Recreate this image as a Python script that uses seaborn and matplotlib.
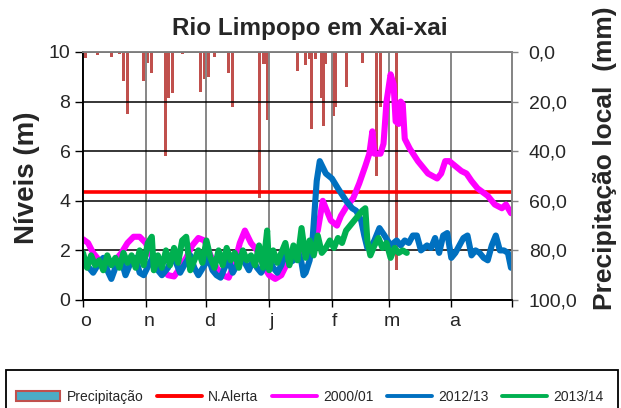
import matplotlib
matplotlib.use('Agg')
import matplotlib.pyplot as plt
import seaborn as sns
from matplotlib.patches import Patch, Rectangle
from matplotlib.lines import Line2D

# days counted from 1 October
month_start = [0, 31, 61, 92, 123, 151, 182, 212]
month_labels = ['o', 'n', 'd', 'j', 'f', 'm', 'a']

# local rainfall (mm)
rain_day = [1, 7, 14, 18, 20, 22, 30, 32, 34, 41, 42, 44, 49, 58, 60, 62, 65, 72, 74,
            87, 89, 90, 91, 106, 110, 112, 113, 115, 118, 119, 120, 124, 125, 130, 138,
            145, 147, 155]
rain_mm = [2.4, 1.2, 2, 1, 11.5, 25, 11.5, 4.4, 8.5, 42, 18.5, 16.5, 1, 16, 11, 10, 2, 8.5, 22,
           59, 5, 5, 27.5, 7.8, 5.4, 3, 31, 3, 18.5, 30, 5, 26, 22, 14, 4.4,
           50, 22, 88]

# alert level (m)
alert_day = [0, 212]
alert_lvl = [4.35, 4.35]

# 2000/01 levels (m)
s0001_day = [0, 2.5, 5, 8, 12, 16, 19, 22, 25, 28, 31, 33, 36, 39, 42, 45, 48, 51, 54, 57,
             60, 63, 66, 69, 72, 75, 77.5, 80, 83, 86, 89, 92, 95, 98, 101, 104, 107, 110,
             113, 116, 118.5, 120.5, 122.5, 125.5, 127.5, 130.5, 133.5, 136.5, 139.5, 141.5,
             143, 144, 147, 148.5, 150, 152, 153.5, 154.5, 156, 157, 158, 159, 161.5, 165.5,
             170.5, 175, 177, 179, 181, 184, 187, 189.5, 192, 195, 200, 203.5, 207, 209, 211.5]
s0001_lvl = [2.45, 2.3, 1.9, 1.6, 1.5, 1.6, 1.9, 2.3, 2.55, 2.55, 2.3, 1.9, 1.5, 1.3, 1.0, 0.95,
             1.3, 1.7, 2.2, 2.5, 2.4, 1.8, 1.3, 1.0, 0.9, 1.5, 2.3, 2.8, 2.3, 2.0, 1.4, 1.0,
             0.85, 1.0, 1.5, 1.7, 1.8, 1.9, 2.3, 2.8, 4.0, 3.6, 3.2, 3.0, 3.4, 3.8, 4.1, 4.7,
             5.4, 5.9, 6.8, 5.9, 5.9, 6.3, 8.0, 9.1, 8.7, 7.2, 7.1, 8.0, 7.9, 6.5, 6.1, 5.6,
             5.1, 4.9, 5.1, 5.6, 5.6, 5.4, 5.2, 5.1, 4.8, 4.5, 4.2, 3.85, 3.7, 3.85, 3.5]

# 2012/13 levels (m)
s1213_day = [0, 3, 5, 8, 10, 12, 14, 16, 19, 21, 23, 26, 28, 30, 33, 35, 37, 39, 42, 44, 46,
             48, 50, 53, 55, 57, 60, 62, 64, 66, 68, 70, 72, 74, 76, 78, 80, 82, 84, 86, 88,
             90, 92, 94, 96, 98, 100, 102, 104, 106, 108, 109, 110, 112, 113.5, 115.5, 117,
             120, 123, 126, 130, 133, 135, 137.5, 139, 140.5, 142, 144, 146.5, 149, 152, 155,
             157, 159, 161, 163, 165, 167, 170, 172, 174, 176, 178, 180, 182, 184, 186, 188,
             190, 192, 194, 196, 198, 200, 202, 204, 206, 208, 210, 211.5]
s1213_lvl = [1.5, 1.3, 1.1, 1.5, 1.7, 1.2, 0.85, 1.3, 1.6, 1.0, 1.4, 1.7, 1.1, 1.0, 1.5, 1.8,
             1.2, 1.0, 1.3, 1.7, 1.5, 1.1, 1.4, 1.8, 1.3, 1.0, 1.4, 1.7, 1.2, 1.0, 0.9, 1.3,
             1.6, 1.1, 1.4, 1.8, 1.5, 1.2, 1.6, 1.3, 1.1, 1.4, 1.7, 1.3, 1.1, 1.4, 1.9, 1.5,
             1.6, 2.0, 1.5, 1.0, 1.1, 1.6, 2.5, 4.8, 5.6, 5.1, 4.9, 4.5, 4.0, 3.7, 3.6, 3.2,
             2.6, 2.1, 2.1, 2.4, 2.9, 2.6, 2.2, 2.4, 2.2, 2.4, 2.3, 2.6, 2.6, 2.0, 2.2, 2.1,
             2.5, 1.9, 2.6, 2.7, 1.7, 1.9, 2.2, 2.5, 2.6, 1.8, 2.0, 1.9, 1.7, 1.6, 2.2, 2.6,
             2.0, 2.0, 1.9, 1.3]

# 2013/14 levels (m)
s1314_day = [0, 2, 4, 6, 8, 10, 12, 14, 16, 18, 20, 22, 24, 26, 28, 30, 32, 34, 35, 37, 39,
             41, 43, 45, 47, 49, 51, 53, 55, 57, 59, 61, 63, 65, 67, 69, 71, 73, 75, 77, 79,
             81, 83, 85, 87, 89, 91, 92, 94, 96, 98, 100, 102, 104, 106, 108, 110, 112, 114,
             116, 118, 120, 122, 124, 126, 128, 130, 132, 134, 136, 138, 139.5, 140.5, 142,
             144, 146, 148, 150, 152, 154, 156, 158, 160]
s1314_lvl = [1.9, 1.3, 1.8, 1.4, 1.6, 1.2, 1.8, 1.4, 1.7, 1.3, 1.9, 1.5, 1.8, 1.3, 2.0, 1.4,
             2.3, 2.55, 1.2, 1.8, 1.3, 2.0, 1.4, 2.1, 1.5, 2.4, 2.55, 1.2, 1.6, 2.0, 1.5, 2.4,
             1.7, 1.3, 2.0, 1.4, 2.1, 1.6, 1.9, 1.3, 2.0, 1.6, 1.8, 1.4, 2.2, 1.3, 2.8, 1.2,
             2.0, 1.5, 1.9, 2.3, 1.4, 2.2, 1.6, 2.9, 1.7, 2.4, 1.8, 2.6, 1.9, 2.1, 2.4, 2.1,
             2.5, 2.3, 2.8, 3.0, 3.2, 3.4, 3.6, 3.7, 2.4, 1.8, 2.2, 2.5, 2.1, 2.3, 1.7, 2.1,
             1.9, 2.0, 1.9]

sns.set_theme(style='white')
plt.rcParams['font.family'] = ['Liberation Sans', 'DejaVu Sans']

fig = plt.figure(figsize=(6.21, 4.08), dpi=100)
ax = fig.add_axes([83 / 621, 108 / 408, 429 / 621, 248 / 408])
ax2 = ax.twinx()

# rainfall bars hanging from the top (right axis inverted)
ax2.bar(rain_day, rain_mm, width=1.5, color='#C0504D', linewidth=0)
ax2.set_ylim(100, 0)
ax2.set_yticks([0, 20, 40, 60, 80, 100])
ax2.set_yticklabels(['0,0', '20,0', '40,0', '60,0', '80,0', '100,0'], fontsize=14)
ax2.tick_params(axis='y', right=True, length=4, width=1, color='#868686', pad=8)
ax2.set_ylabel('')

ax.set_zorder(ax2.get_zorder() + 1)
ax.patch.set_visible(False)

line_kw = dict(estimator=None, sort=False, solid_joinstyle='round', solid_capstyle='round')
sns.lineplot(x=alert_day, y=alert_lvl, ax=ax, color='#FF0000', linewidth=2.6, **line_kw)
sns.lineplot(x=s0001_day, y=s0001_lvl, ax=ax, color='#FF00FF', linewidth=4.4, **line_kw)
sns.lineplot(x=s1213_day, y=s1213_lvl, ax=ax, color='#0070C0', linewidth=4.4, **line_kw)
sns.lineplot(x=s1314_day, y=s1314_lvl, ax=ax, color='#00B050', linewidth=4.4, **line_kw)

ax.set_xlim(0, 212)
ax.set_ylim(0, 10)
ax.set_yticks([0, 2, 4, 6, 8, 10])
ax.set_yticklabels(['0', '2', '4', '6', '8', '10'], fontsize=14)
ax.set_xticks(month_start)
ax.set_xticklabels([])
ax.set_xticks([m + 1.5 for m in month_start[:-1]], minor=True)
ax.set_xticklabels(month_labels, minor=True, fontsize=14)
ax.tick_params(axis='x', which='major', bottom=True, length=5, width=1, color='black')
ax.tick_params(axis='x', which='minor', bottom=True, length=0, pad=9)
ax.tick_params(axis='y', left=True, length=6, width=1, color='black', pad=3)
ax.set_xlabel('')
ax.set_ylabel('')

ax.grid(axis='y', color='black', linewidth=1.1)
ax.grid(axis='x', which='major', color='#868686', linewidth=1.4)

for a in (ax, ax2):
    a.spines['left'].set_color('black')
    a.spines['bottom'].set_color('black')
    a.spines['left'].set_linewidth(1.3)
    a.spines['bottom'].set_linewidth(1.3)
    a.spines['top'].set_color('#868686')
    a.spines['right'].set_color('#868686')
    a.spines['top'].set_linewidth(1.3)
    a.spines['right'].set_linewidth(1.3)

fig.text(310 / 621, 1 - 28 / 408, 'Rio Limpopo em Xai-xai', ha='center', va='center',
         fontsize=17.5, fontweight='bold')
fig.text(27 / 621, 1 - 178 / 408, 'Níveis (m)', ha='center', va='center', rotation=90,
         fontsize=20, fontweight='bold')
fig.text(605 / 621, 1 - 158 / 408, 'Precipitação local  (mm)', ha='center', va='center',
         rotation=90, fontsize=19, fontweight='bold')

handles = [Patch(facecolor='#4BACC6', edgecolor='#C0504D', linewidth=1.5),
           Line2D([], [], color='#FF0000', linewidth=2.8),
           Line2D([], [], color='#FF00FF', linewidth=2.8),
           Line2D([], [], color='#0070C0', linewidth=2.8),
           Line2D([], [], color='#00B050', linewidth=2.8)]
labels = ['Precipitação', 'N.Alerta', '2000/01', '2012/13', '2013/14']
fig.legend(handles, labels, loc='center left', bbox_to_anchor=(16 / 621, 1 - 397 / 408),
           ncol=5, frameon=False, fontsize=10, handlelength=3.2, handletextpad=0.45,
           columnspacing=1.0, handleheight=0.7, borderpad=0, borderaxespad=0)
fig.add_artist(Rectangle((6 / 621, -0.1), 612 / 621, (408 - 370) / 408 + 0.1,
                         transform=fig.transFigure, fill=False, edgecolor='black',
                         linewidth=1.3))

fig.savefig('out.png', dpi=100)
